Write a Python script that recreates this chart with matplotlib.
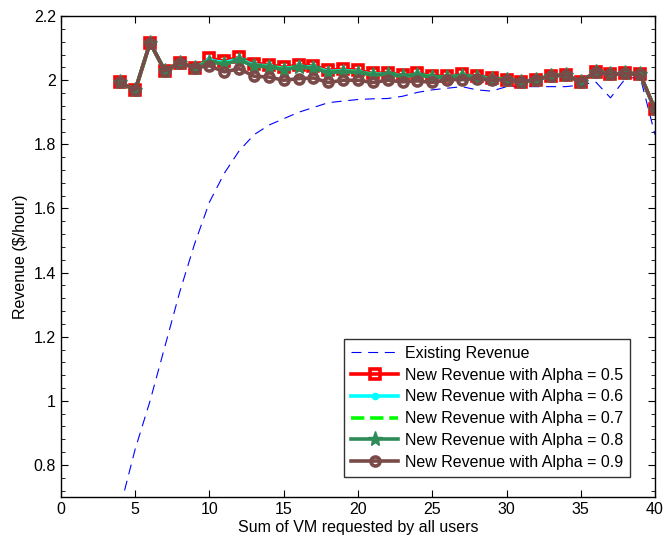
import matplotlib
matplotlib.use("Agg")
import matplotlib.pyplot as plt
from matplotlib.ticker import MultipleLocator, FuncFormatter

plt.rcParams['font.family'] = ['Liberation Sans', 'DejaVu Sans']

x = list(range(4, 41))

existing = [0.67, 0.85, 1.00, 1.17, 1.34, 1.49, 1.62, 1.71, 1.78, 1.83,
            1.86, 1.88, 1.90, 1.915, 1.93, 1.935, 1.94, 1.942, 1.943, 1.95,
            1.962, 1.97, 1.975, 1.98, 1.97, 1.966, 1.98, 1.98, 1.98, 1.98,
            1.98, 1.985, 1.995, 1.945, 2.005, 2.01, 1.83]

alpha05 = [1.993, 1.969, 2.117, 2.029, 2.055, 2.039, 2.068, 2.060, 2.071, 2.052,
           2.049, 2.040, 2.047, 2.045, 2.031, 2.034, 2.031, 2.021, 2.023, 2.016,
           2.021, 2.014, 2.012, 2.018, 2.012, 2.008, 2.002, 1.995, 2.002, 2.014,
           2.016, 1.995, 2.026, 2.018, 2.021, 2.018, 1.909]

alpha06 = [1.993, 1.969, 2.117, 2.029, 2.055, 2.039, 2.062, 2.055, 2.066, 2.047,
           2.045, 2.036, 2.043, 2.041, 2.027, 2.030, 2.027, 2.018, 2.020, 2.013,
           2.018, 2.011, 2.010, 2.015, 2.010, 2.006, 2.002, 1.995, 2.002, 2.014,
           2.016, 1.995, 2.026, 2.018, 2.021, 2.018, 1.909]

alpha07 = [1.993, 1.969, 2.117, 2.029, 2.055, 2.039, 2.058, 2.052, 2.063, 2.045,
           2.043, 2.034, 2.041, 2.039, 2.025, 2.028, 2.025, 2.017, 2.019, 2.012,
           2.017, 2.010, 2.009, 2.014, 2.009, 2.005, 2.002, 1.995, 2.002, 2.014,
           2.016, 1.995, 2.026, 2.018, 2.021, 2.018, 1.909]

alpha08 = [1.993, 1.969, 2.117, 2.029, 2.055, 2.039, 2.058, 2.050, 2.063, 2.044,
           2.042, 2.033, 2.040, 2.038, 2.024, 2.027, 2.024, 2.016, 2.018, 2.012,
           2.016, 2.010, 2.009, 2.014, 2.009, 2.005, 2.002, 1.995, 2.002, 2.014,
           2.016, 1.995, 2.026, 2.018, 2.021, 2.018, 1.909]

alpha09 = [1.993, 1.969, 2.117, 2.029, 2.055, 2.039, 2.045, 2.026, 2.036, 2.0125,
           2.010, 2.000, 2.005, 2.007, 1.993, 2.000, 2.000, 1.993, 2.000, 1.995,
           1.998, 1.993, 2.002, 2.002, 2.005, 2.000, 2.002, 1.995, 2.002, 2.014,
           2.016, 1.995, 2.026, 2.018, 2.021, 2.018, 1.909]

labels = ['Existing Revenue',
          'New Revenue with Alpha = 0.5',
          'New Revenue with Alpha = 0.6',
          'New Revenue with Alpha = 0.7',
          'New Revenue with Alpha = 0.8',
          'New Revenue with Alpha = 0.9']

fig = plt.figure(figsize=(6.65, 5.37), dpi=100)
ax = fig.add_axes([0.0917, 0.0745, 0.8933, 0.8955])

lw = 2.6
ax.plot(x, existing, color='#0000FF', ls=(0, (9, 6)), lw=0.8, label=labels[0])
ax.plot(x, alpha05, color='#FF0000', lw=lw, marker='s', ms=7, mfc='none',
        mew=2.6, label=labels[1])
ax.plot(x, alpha06, color='#00FFFF', lw=lw, marker='o', ms=4.5, label=labels[2])
ax.plot(x, alpha07, color='#00FF00', lw=lw, ls='--', label=labels[3])
ax.plot(x, alpha08, color='#2E8B57', lw=lw, marker='*', ms=11, label=labels[4])
ax.plot(x, alpha09, color='#7A4A48', lw=lw, marker='o', ms=6.5, mfc='none',
        mew=2.6, label=labels[5])

ax.set_xlim(0, 40)
ax.set_ylim(0.7, 2.2)
ax.xaxis.set_major_locator(MultipleLocator(5))
ax.yaxis.set_major_locator(MultipleLocator(0.2))
ax.yaxis.set_minor_locator(MultipleLocator(0.04))
ax.yaxis.set_major_formatter(FuncFormatter(lambda v, p: '%g' % round(v, 2)))
ax.tick_params(which='both', direction='in', top=True, right=True, labelsize=11.5)
ax.tick_params(which='major', length=5)
ax.tick_params(which='minor', length=3)
for s in ax.spines.values():
    s.set_linewidth(1.0)

ax.set_xlabel('Sum of VM requested by all users', fontsize=11.5, labelpad=2)
ax.set_ylabel('Revenue ($/hour)', fontsize=11.5)

leg = ax.legend(loc='lower right', bbox_to_anchor=(0.958, 0.042), fontsize=11.5,
                frameon=True, fancybox=False, edgecolor='black',
                handlelength=2.95, borderpad=0.45, labelspacing=0.42,
                handletextpad=0.4, borderaxespad=0.0)
leg.get_frame().set_linewidth(1.0)

fig.savefig('out.png', dpi=100)
